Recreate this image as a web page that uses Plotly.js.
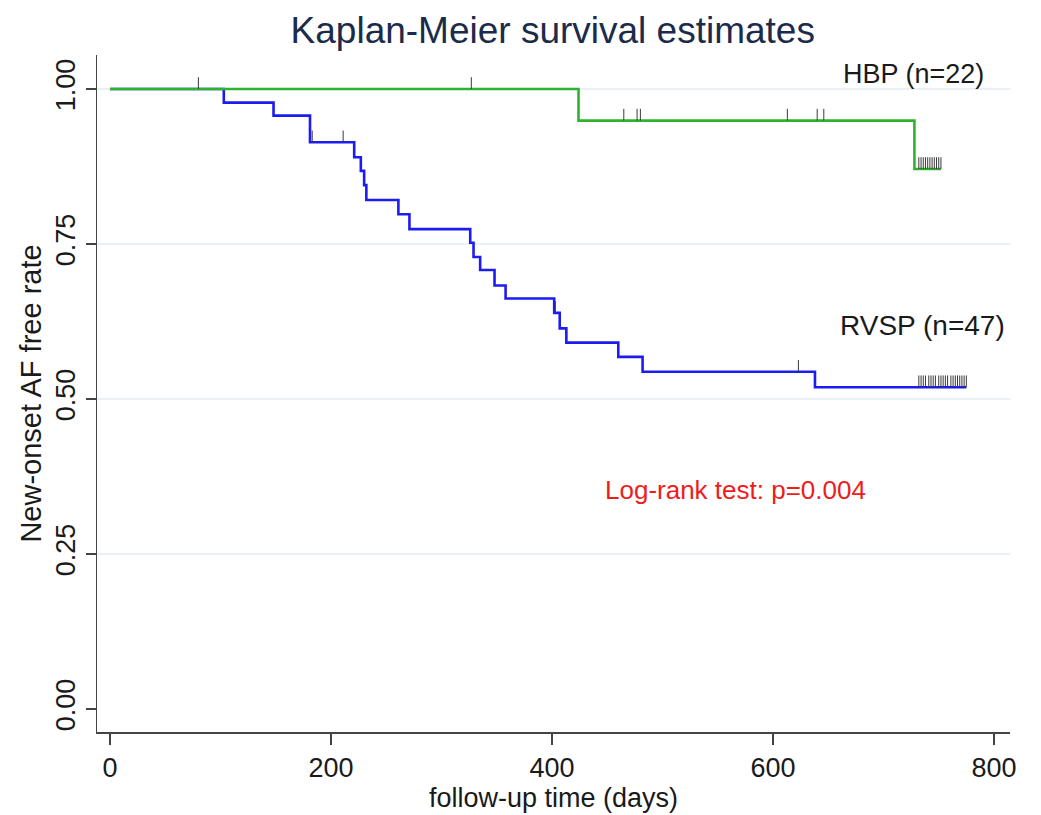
<!DOCTYPE html>
<html>
<head>
<meta charset="utf-8">
<script src="https://cdn.plot.ly/plotly-3.0.1.min.js"></script>
<style>html,body{margin:0;padding:0;background:#fff;}#chart{width:1041px;height:815px;}</style>
</head>
<body>
<div id="chart"></div>
<script>
// ---- data ----
const hbpTimes = [0, 424, 728, 752];
const hbpSurv  = [1.000, 0.949, 0.871, 0.871];
const hbpCensorTimes = [80, 327, 465, 477, 480, 613, 640, 646, 732, 734, 736, 738, 740, 742, 744, 746, 748, 750, 752];
const hbpCensorSurv  = [1.000, 1.000, 0.949, 0.949, 0.949, 0.949, 0.949, 0.949, 0.871, 0.871, 0.871, 0.871, 0.871, 0.871, 0.871, 0.871, 0.871, 0.871, 0.871];

const rvspTimes = [0, 103, 148, 181, 221, 227, 230, 232, 261, 271, 326, 329, 335, 348, 358, 402, 407, 413, 460, 482, 638, 775];
const rvspSurv  = [1.000, 0.978, 0.957, 0.914, 0.890, 0.868, 0.845, 0.821, 0.798, 0.774, 0.752, 0.729, 0.708, 0.683, 0.662, 0.639, 0.614, 0.591, 0.568, 0.544, 0.519, 0.519];
const rvspCensorTimes = [183, 211, 403, 623, 732, 734, 736, 738, 741, 743, 745, 747, 750, 752, 754, 756, 758, 761, 763, 765, 767, 769, 771, 773, 775];
const rvspCensorSurv  = [0.914, 0.914, 0.639, 0.544, 0.519, 0.519, 0.519, 0.519, 0.519, 0.519, 0.519, 0.519, 0.519, 0.519, 0.519, 0.519, 0.519, 0.519, 0.519, 0.519, 0.519, 0.519, 0.519, 0.519, 0.519];

const xTickVals = [0, 200, 400, 600, 800];
const yTickVals = [0, 0.25, 0.5, 0.75, 1];
const yTickText = ['0.00', '0.25', '0.50', '0.75', '1.00'];
const gridVals = [0.25, 0.5, 0.75, 1];

const groupLabels = ['HBP (n=22)', 'RVSP (n=47)'];
const testLabel = 'Log-rank test: p=0.004';

// ---- build ----
const FONT = 'Liberation Sans, Arial, sans-serif';
const markH = 0.019;
function censorSegs(ts, ss) {
  const x = [], y = [];
  ts.forEach((t, i) => { x.push(t, t, null); y.push(ss[i], ss[i] + markH, null); });
  return {x, y};
}
const hc = censorSegs(hbpCensorTimes, hbpCensorSurv);
const rc = censorSegs(rvspCensorTimes, rvspCensorSurv);

const traces = [
  {x: rvspTimes, y: rvspSurv, mode: 'lines', line: {shape: 'hv', color: '#1c1cf0', width: 2.6}, hoverinfo: 'skip'},
  {x: hbpTimes, y: hbpSurv, mode: 'lines', line: {shape: 'hv', color: '#2fb32f', width: 2.6}, hoverinfo: 'skip'},
  {x: rc.x, y: rc.y, mode: 'lines', line: {color: '#3a3a3a', width: 1}, hoverinfo: 'skip'},
  {x: hc.x, y: hc.y, mode: 'lines', line: {color: '#3a3a3a', width: 1}, hoverinfo: 'skip'}
];

const layout = {
  width: 1041, height: 815,
  margin: {l: 97, r: 31, t: 55, b: 83},
  paper_bgcolor: '#ffffff', plot_bgcolor: '#ffffff',
  showlegend: false,
  font: {family: FONT, color: '#1a1a1a', size: 27},
  title: {text: 'Kaplan-Meier survival estimates', font: {family: FONT, size: 37, color: '#1b2b4b'}, x: 0.531, xanchor: 'center', y: 0.963, yanchor: 'middle'},
  xaxis: {
    range: [-11.76, 814.5], tickvals: xTickVals, ticks: 'outside', ticklen: 11, tickcolor: '#444', tickwidth: 1.2,
    showline: true, linecolor: '#444', linewidth: 1.5, showgrid: false, zeroline: false,
    tickfont: {size: 27, color: '#1a1a1a'},
    title: {text: 'follow-up time (days)', font: {size: 27, color: '#1a1a1a'}, standoff: 0}
  },
  yaxis: {
    range: [-0.037, 1.0548], tickvals: yTickVals, ticktext: yTickText, tickangle: -90,
    ticks: 'outside', ticklen: 10, tickcolor: '#444', tickwidth: 1.2,
    showline: true, linecolor: '#444', linewidth: 1.5, showgrid: false, zeroline: false,
    tickfont: {size: 27, color: '#1a1a1a'},
    title: {text: 'New-onset AF free rate', font: {size: 29, color: '#1a1a1a'}, standoff: 0}
  },
  shapes: gridVals.map(v => ({type: 'line', xref: 'paper', x0: 0, x1: 1, yref: 'y', y0: v, y1: v, layer: 'below', line: {color: '#e3edf0', width: 1.5}})),
  annotations: [
    {text: groupLabels[0], x: 727, y: 1.024, xref: 'x', yref: 'y', showarrow: false, font: {size: 27, color: '#1a1a1a'}},
    {text: groupLabels[1], x: 735, y: 0.618, xref: 'x', yref: 'y', showarrow: false, font: {size: 28, color: '#1a1a1a'}},
    {text: testLabel, x: 566, y: 0.353, xref: 'x', yref: 'y', showarrow: false, font: {size: 26, color: '#ee1c1c'}}
  ]
};

Plotly.newPlot('chart', traces, layout, {staticPlot: true, displayModeBar: false});
</script>
</body>
</html>
